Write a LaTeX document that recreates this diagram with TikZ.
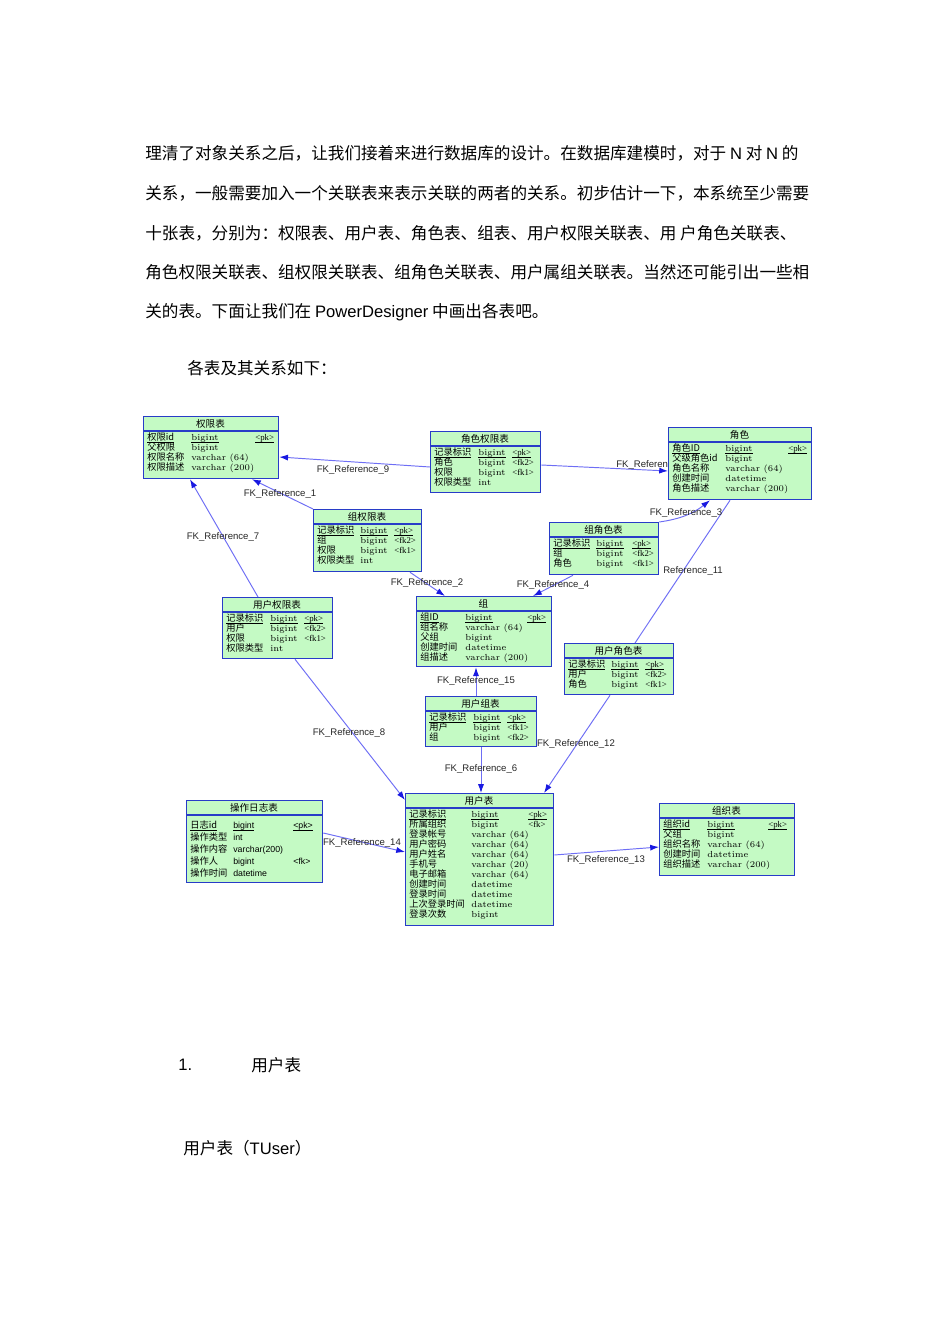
\documentclass[tikz,border=0pt]{standalone}
\usepackage{fontspec}
\newfontfamily\cjk{Noto Sans CJK SC}
\newfontfamily\lat{Liberation Sans}
\newfontfamily\keyserif{Liberation Serif}
\usetikzlibrary{arrows.meta}

\definecolor{erfill}{RGB}{196,250,196}
\definecolor{erline}{RGB}{40,60,200}
\definecolor{fkline}{RGB}{110,110,245}
\definecolor{fkhead}{RGB}{25,25,225}

\newcommand{\px}{0.6265pt}
\newcommand{\erfirst}{22}
\newcommand{\erstep}{10}
\newcommand{\ertypefont}{\rmfamily}
\newcommand{\erkeyfont}{\keyserif}
% 主键行下划线 (不计下伸部分)
\newcommand{\erul}[1]{\underline{\raisebox{0pt}[\height][0pt]{#1}}}

\tikzset{
  erbox/.style={draw=erline, fill=erfill, line width=0.8pt, inner sep=0pt},
  ersep/.style={draw=erline, line width=0.8pt},
  ertitle/.style={font=\cjk\fontsize{6}{7}\selectfont, inner sep=0pt},
  ername/.style={font=\cjk\fontsize{5.8}{7}\selectfont, inner sep=0pt, anchor=base west},
  ertype/.style={font=\ertypefont\fontsize{5.5}{7}\selectfont, inner sep=0pt, anchor=base west},
  erkey/.style={font=\erkeyfont\fontsize{5.5}{7}\selectfont, inner sep=0pt, anchor=base west},
  fk/.style={draw=fkline, line width=0.6pt, -{Latex[length=5.5pt,width=3.8pt,color=fkhead]}},
  fkplain/.style={draw=fkline, line width=0.6pt},
  fklabel/.style={font=\lat\fontsize{6}{7}\selectfont, inner sep=0pt, text=black!85},
  body/.style={font=\cjk\fontsize{10.4}{12}\selectfont, inner sep=0pt, anchor=west},
}

% 表: 名称, x, y, 宽, 高, 标题, 类型列, 键列, 字段
\newcommand{\ertable}[9]{%
  \node[erbox, minimum width=#4*\px, minimum height=#5*\px, anchor=north west] (#1) at (#2,#3) {};
  \draw[ersep] (#2,#3+15) -- (#2+#4,#3+15);
  \node[ertitle] (#1-title) at (#2+#4/2,#3+7.5) {#6};
  \foreach \fname/\ftype/\fkey [count=\i] in {#9} {
    \node[ername] (#1-n\i) at ({#2+4},{#3+\erfirst+\erstep*(\i-1)+2.5}) {\ifnum\i=1 \erul{\fname}\else\fname\fi};
    \node[ertype] (#1-t\i) at ({#2+#7},{#3+\erfirst+\erstep*(\i-1)+2.5}) {\ifnum\i=1 \erul{\ftype}\else\ftype\fi};
    \node[erkey] (#1-k\i) at ({#2+#8},{#3+\erfirst+\erstep*(\i-1)+2.5}) {\ifnum\i=1 \erul{\fkey}\else\fkey\fi};
  }%
}

\begin{document}
\begin{tikzpicture}[x=0.6265pt, y=-0.6265pt]
    \fill[white] (0,0) rectangle (950,1344);
    \useasboundingbox (0,0) rectangle (950,1344);

    % 正文
    \node[body] (p1) at (145,153) {理清了对象关系之后，让我们接着来进行数据库的设计。在数据库建模时，对于 {\lat N} 对 {\lat N} 的};
    \node[body] (p2) at (145,193) {关系，一般需要加入一个关联表来表示关联的两者的关系。初步估计一下，本系统至少需要};
    \node[body] (p3) at (145,233) {十张表，分别为：权限表、用户表、角色表、组表、用户权限关联表、用 户角色关联表、};
    \node[body] (p4) at (145,272) {角色权限关联表、组权限关联表、组角色关联表、用户属组关联表。当然还可能引出一些相};
    \node[body] (p5) at (145,312) {关的表。下面让我们在 {\lat PowerDesigner} 中画出各表吧。};
    \node[body] (p6) at (187,368) {各表及其关系如下：};

    % 各表
    \ertable{quanxian}{143}{416}{135}{62}{权限表}{48}{112}{权限id/bigint/<pk>, 父权限/bigint/{}, 权限名称/varchar (64)/{}, 权限描述/varchar (200)/{}}
    \ertable{jsqx}{430}{431}{110}{61}{角色权限表}{48}{82}{记录标识/bigint/<pk>, 角色/bigint/<fk2>, 权限/bigint/<fk1>, 权限类型/int/{}}
    \ertable{juese}{668}{427}{143}{72}{角色}{57}{120}{角色ID/bigint/<pk>, 父级角色id/bigint/{}, 角色名称/varchar (64)/{}, 创建时间/datetime/{}, 角色描述/varchar (200)/{}}
    \ertable{zqx}{313}{509}{108}{62}{组权限表}{47}{81}{记录标识/bigint/<pk>, 组/bigint/<fk2>, 权限/bigint/<fk1>, 权限类型/int/{}}
    \ertable{zjs}{549}{522}{109}{52}{组角色表}{47}{83}{记录标识/bigint/<pk>, 组/bigint/<fk2>, 角色/bigint/<fk1>}
    \ertable{yhqx}{222}{597}{110}{61}{用户权限表}{48}{82}{记录标识/bigint/<pk>, 用户/bigint/<fk2>, 权限/bigint/<fk1>, 权限类型/int/{}}
    \ertable{zu}{416}{596}{135}{70}{组}{49}{111}{组ID/bigint/<pk>, 组名称/varchar (64)/{}, 父组/bigint/{}, 创建时间/datetime/{}, 组描述/varchar (200)/{}}
    \ertable{yhjs}{564}{643}{109}{51}{用户角色表}{47}{81}{记录标识/bigint/<pk>, 用户/bigint/<fk2>, 角色/bigint/<fk1>}
    \ertable{yhz}{425}{696}{111}{50}{用户组表}{48}{82}{记录标识/bigint/<pk>, 用户/bigint/<fk1>, 组/bigint/<fk2>}
    \ertable{yonghu}{405}{793}{148}{132}{用户表}{66}{123}{记录标识/bigint/<pk>, 所属组织/bigint/<fk>, 登录帐号/varchar (64)/{}, 用户密码/varchar (64)/{}, 用户姓名/varchar (64)/{}, 手机号/varchar (20)/{}, 电子邮箱/varchar (64)/{}, 创建时间/datetime/{}, 登录时间/datetime/{}, 上次登录时间/datetime/{}, 登录次数/bigint/{}}
    \ertable{zuzhi}{659}{803}{135}{72}{组织表}{48}{109}{组织id/bigint/<pk>, 父组/bigint/{}, 组织名称/varchar (64)/{}, 创建时间/datetime/{}, 组织描述/varchar (200)/{}}
    % 操作日志表 (行距较大, 无衬线字体)
    \renewcommand{\erfirst}{26}
    \renewcommand{\erstep}{12}
    \renewcommand{\ertypefont}{\lat}
    \renewcommand{\erkeyfont}{\lat}
    \ertable{czrz}{186}{800}{136}{82}{操作日志表}{47}{107}{日志id/bigint/<pk>, 操作类型/int/{}, 操作内容/varchar(200)/{}, 操作人/bigint/<fk>, 操作时间/datetime/{}}

    % 外键连线
    \draw[fk] (jsqx.west |- 0,467) -- (quanxian.east |- 0,457);
    \draw[fk] (zqx.north west) -- (quanxian.south -| 252,0);
    \draw[fk] (yhqx.north -| 258,0) -- (quanxian.south -| 190,0);
    \draw[fk] (jsqx.east |- 0,465) -- (juese.west |- 0,471);
    \draw[fk] (zjs.north east) to[bend right=15] (juese.south -| 710,0);
    \draw[fkplain] (yhjs.north -| 635,0) -- (juese.south -| 730,0);
    \draw[fk] (zqx.south -| 410,0) -- (zu.north -| 445,0);
    \draw[fk] (zjs.south -| 573,0) -- (zu.north -| 533,0);
    \draw[fk] (yhz.north -| 476,0) -- (zu.south -| 476,0);
    \draw[fk] (yhqx.south -| 295,0) -- (yonghu.west |- 0,800);
    \draw[fk] (yhz.south -| 481,0) -- (yonghu.north -| 481,0);
    \draw[fk] (yhjs.south -| 610,0) -- (yonghu.north -| 544,0);
    \draw[fk] (czrz.east |- 0,833) -- (yonghu.west |- 0,852);
    \draw[fk] (yonghu.east |- 0,855) -- (zuzhi.west |- 0,847);

    % 连线标注
    \node[fklabel] (l9) at (353,470) {FK\_Reference\_9};
    \node[fklabel] (l1) at (280,494) {FK\_Reference\_1};
    \node[fklabel] (l7) at (223,537) {FK\_Reference\_7};
    \node[fklabel, anchor=west] (l10) at (616,465) {FK\_Referen};
    \node[fklabel] (l3) at (686,513) {FK\_Reference\_3};
    \node[fklabel, anchor=west] (l11) at (663,571) {Reference\_11};
    \node[fklabel] (l2) at (427,583) {FK\_Reference\_2};
    \node[fklabel] (l4) at (553,585) {FK\_Reference\_4};
    \node[fklabel] (l15) at (476,681) {FK\_Reference\_15};
    \node[fklabel] (l8) at (349,733) {FK\_Reference\_8};
    \node[fklabel] (l6) at (481,769) {FK\_Reference\_6};
    \node[fklabel] (l12) at (576,744) {FK\_Reference\_12};
    \node[fklabel] (l14) at (362,843) {FK\_Reference\_14};
    \node[fklabel] (l13) at (606,860) {FK\_Reference\_13};

    % 下文
    \node[body, font=\lat\fontsize{10.4}{12}\selectfont] (h1num) at (178,1065) {1.};
    \node[body] (h1) at (251,1065) {用户表};
    \node[body] (h2) at (183,1148) {用户表（{\lat TUser}）};
\end{tikzpicture}
\end{document}
